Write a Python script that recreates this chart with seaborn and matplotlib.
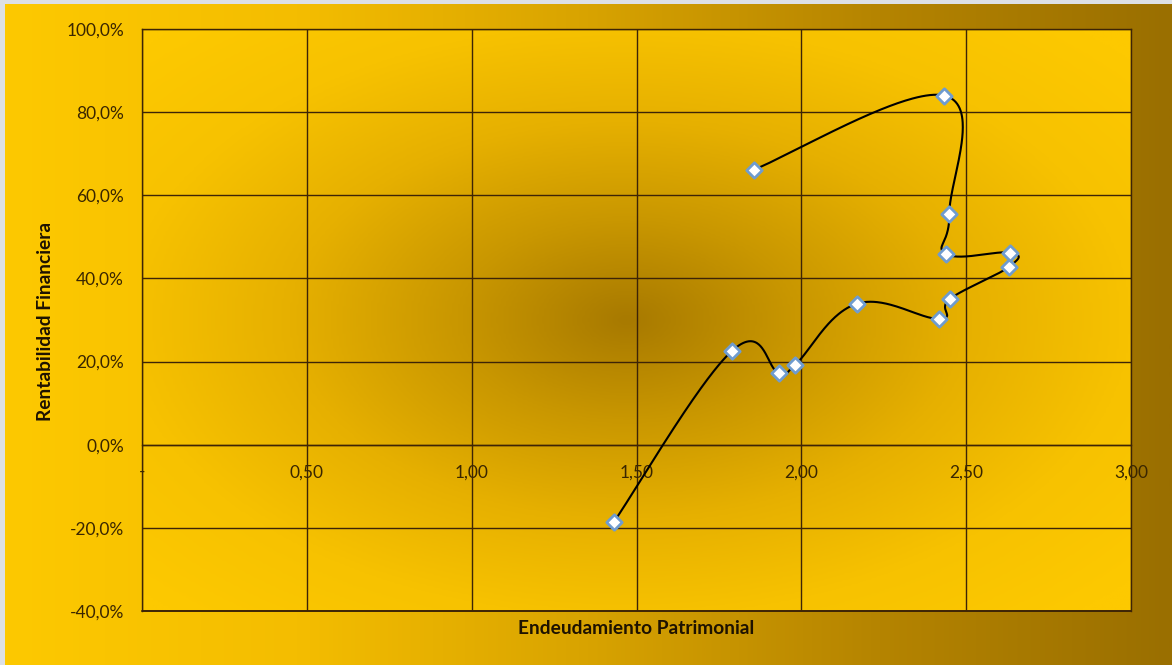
import numpy as np
import pandas as pd
import matplotlib
matplotlib.use("Agg")
import matplotlib.pyplot as plt
from matplotlib.colors import LinearSegmentedColormap
from matplotlib.ticker import FuncFormatter
import seaborn as sns

# Endeudamiento patrimonial (x) vs rentabilidad financiera (y), in series order
endeudamiento = [1.432, 1.790, 1.932, 1.981, 2.168, 2.418, 2.451, 2.630, 2.633, 2.439, 2.449, 2.433, 1.857]
rentabilidad = [-0.185, 0.226, 0.173, 0.192, 0.339, 0.303, 0.351, 0.428, 0.462, 0.459, 0.556, 0.840, 0.662]

x_ticks = [0.0, 0.5, 1.0, 1.5, 2.0, 2.5, 3.0]
y_ticks = [-0.4, -0.2, 0.0, 0.2, 0.4, 0.6, 0.8, 1.0]

df = pd.DataFrame({"Endeudamiento Patrimonial": endeudamiento,
                   "Rentabilidad Financiera": rentabilidad})

sns.set_theme(style="white")
plt.rcParams["font.family"] = ["Lato", "DejaVu Sans"]

W, H = 1172, 665
fig = plt.figure(figsize=(W / 100, H / 100), dpi=100)
fig.patch.set_facecolor("#dde0e4")

# Chart-area background: horizontal gold-to-bronze gradient
bg = fig.add_axes([5 / W, 0, 1 - 5 / W, 1 - 4 / H], zorder=-5)
bg_cmap = LinearSegmentedColormap.from_list(
    "chart_bg", ["#fdc900", "#f4bd00", "#d8a300", "#b58400", "#9a6f00"])
grad = np.linspace(0, 1, 512)[None, :]
bg.imshow(grad, cmap=bg_cmap, aspect="auto", extent=[0, 1, 0, 1])
bg.set_axis_off()

left, right = 142 / W, 1131 / W
bottom, top = (H - 611) / H, (H - 29) / H
ax = fig.add_axes([left, bottom, right - left, top - bottom])

xmin, xmax = 0.0, 3.0
ymin, ymax = -0.4, 1.0

# Plot-area background: radial gradient, dark in the middle
gx, gy = np.meshgrid(np.linspace(0, 1, 400), np.linspace(0, 1, 300))
d = np.sqrt((gx - 0.49) ** 2 + (gy - 0.5) ** 2)
t = np.clip(d / 0.68, 0, 1)
pa_cmap = LinearSegmentedColormap.from_list(
    "plot_bg", ["#a87a00", "#c99700", "#e6b000", "#f7c200", "#fdc900"])
ax.imshow(t, cmap=pa_cmap, aspect="auto", extent=[xmin, xmax, ymin, ymax],
          origin="lower", zorder=0, interpolation="bilinear")

# Smoothed connecting line (cardinal Bezier spline, computed in screen space)
tension = 1 / 5
ax_w, ax_h = (right - left) * W, (top - bottom) * H
px = (np.array(endeudamiento) - xmin) / (xmax - xmin) * ax_w
py = (np.array(rentabilidad) - ymin) / (ymax - ymin) * ax_h
P = np.column_stack([px, py])
Pext = np.vstack([P[0], P, P[-1]])
curve = []
for i in range(1, len(Pext) - 2):
    p0, p1, p2, p3 = Pext[i - 1], Pext[i], Pext[i + 1], Pext[i + 2]
    c1 = p1 + (p2 - p0) * tension
    c2 = p2 - (p3 - p1) * tension
    s = np.linspace(0, 1, 80)[:, None]
    seg = ((1 - s) ** 3) * p1 + 3 * ((1 - s) ** 2) * s * c1 + 3 * (1 - s) * s ** 2 * c2 + s ** 3 * p2
    curve.append(seg if i == 1 else seg[1:])
curve = np.vstack(curve)
smooth = pd.DataFrame({
    "x": curve[:, 0] / ax_w * (xmax - xmin) + xmin,
    "y": curve[:, 1] / ax_h * (ymax - ymin) + ymin,
})
sns.lineplot(data=smooth, x="x", y="y", sort=False, estimator=None,
             color="black", linewidth=1.5, ax=ax, zorder=3)

sns.scatterplot(data=df, x="Endeudamiento Patrimonial", y="Rentabilidad Financiera",
                marker="D", s=62, color="white", edgecolor="#6f9ccf",
                linewidth=2.0, ax=ax, zorder=4)

ax.set_xlim(xmin, xmax)
ax.set_ylim(ymin, ymax)
ax.set_xticks(x_ticks)
ax.set_yticks(y_ticks)

grid_color = "#3d2406"
ax.grid(True, color=grid_color, linewidth=1.0, zorder=1)
ax.set_axisbelow(False)
for gl in ax.get_xgridlines() + ax.get_ygridlines():
    gl.set_zorder(1)

for side in ["left", "top", "right"]:
    ax.spines[side].set_color(grid_color)
    ax.spines[side].set_linewidth(1.0)
ax.spines["bottom"].set_position(("data", 0))
ax.spines["bottom"].set_color(grid_color)
ax.spines["bottom"].set_linewidth(1.0)
ax.axhline(ymin, color=grid_color, linewidth=1.4, clip_on=False, zorder=2)

def fmt_x(v, pos):
    if abs(v) < 1e-9:
        return "-"
    return f"{v:.2f}".replace(".", ",")

def fmt_y(v, pos):
    return f"{v * 100:.1f}%".replace(".", ",")

ax.xaxis.set_major_formatter(FuncFormatter(fmt_x))
ax.yaxis.set_major_formatter(FuncFormatter(fmt_y))

label_color = "#3a2600"
ax.tick_params(axis="x", length=0, pad=14, labelsize=12.5, labelcolor=label_color)
ax.tick_params(axis="y", length=0, pad=13, labelsize=12.5, labelcolor=label_color)

ax.set_xlabel("")
ax.set_ylabel("")
fig.text(636 / W, 1 - 629 / H, "Endeudamiento Patrimonial", ha="center", va="center",
         fontsize=13.8, fontweight="bold", color="#1e1200")
fig.text(46 / W, 1 - 321 / H, "Rentabilidad Financiera", ha="center", va="center",
         rotation=90, fontsize=13.8, fontweight="bold", color="#1e1200")

fig.savefig("out.png", dpi=100)
